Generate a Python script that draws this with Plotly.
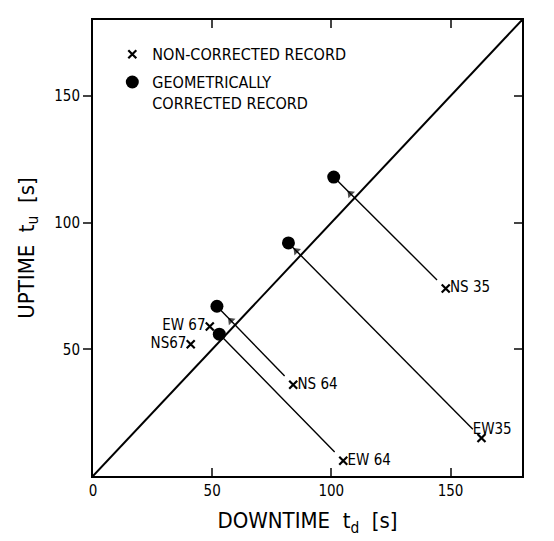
import numpy as np
import plotly.graph_objects as go

# Record names and timings (seconds)
labels = ["NS 35", "EW35", "NS 64", "EW 64", "EW 67", "NS67"]
raw_down = [148, 163, 84, 105, 49, 41]
raw_up = [74, 15, 36, 6, 59, 52]

# Geometrically corrected timings (only the first four records were corrected)
corr_down = [101, 82, 52, 53]
corr_up = [118, 92, 67, 56]

x_ticks = [0, 50, 100, 150]
y_ticks = [50, 100, 150]
axis_max = 180

FONT = "DejaVu Sans Condensed, Liberation Sans Narrow, Roboto Condensed, Liberation Sans, sans-serif"
label_pos = ["middle right", "top center", "middle right", "middle right", "middle left", "middle left"]
NB = "\u00a0"


def pad(text, pos):
    # keep labels clear of the cross markers
    if pos == "middle right":
        return NB + text
    if pos == "middle left":
        return text + NB
    return NB * 5 + text


label_text = [pad(t, p) for t, p in zip(labels, label_pos)]

fig = go.Figure()

# Line of equal uptime and downtime
fig.add_trace(go.Scatter(x=[0, axis_max], y=[0, axis_max], mode="lines",
                         line=dict(color="black", width=2), showlegend=False, hoverinfo="skip"))

# Correction paths: from each raw record to its corrected position,
# with a small arrowhead just past the crossing with the diagonal
for i in range(len(corr_down)):
    p0 = np.array([raw_down[i], raw_up[i]], dtype=float)
    p1 = np.array([corr_down[i], corr_up[i]], dtype=float)
    d = p1 - p0
    u = d / np.linalg.norm(d)
    start = p0 + 5 * u
    s = (p0[1] - p0[0]) / (d[0] - d[1])
    tip = p0 + s * d + 2.5 * u
    fig.add_trace(go.Scatter(
        x=[start[0], tip[0], p1[0]], y=[start[1], tip[1], p1[1]], mode="lines+markers",
        line=dict(color="black", width=1.4),
        marker=dict(symbol="triangle-up", size=[0, 8, 0], color="black",
                    angleref="previous", line=dict(width=0)),
        showlegend=False, hoverinfo="skip"))

fig.add_trace(go.Scatter(x=raw_down, y=raw_up, mode="markers", name="NON-CORRECTED RECORD",
                         marker=dict(symbol="x-thin", size=8, line=dict(color="black", width=2.2)),
                         legendgroup="a"))
fig.add_trace(go.Scatter(x=corr_down, y=corr_up, mode="markers",
                         name="GEOMETRICALLY<br>CORRECTED RECORD",
                         marker=dict(symbol="circle", size=13, color="black"), legendgroup="b"))
fig.add_trace(go.Scatter(x=raw_down, y=raw_up, mode="text", text=label_text, textposition=label_pos,
                         textfont=dict(family=FONT, size=15, color="black"),
                         showlegend=False, hoverinfo="skip"))

# invisible trace to carry the right-hand axis
fig.add_trace(go.Scatter(x=[0], y=[0], yaxis="y2", mode="markers", marker=dict(opacity=0),
                         showlegend=False, hoverinfo="skip"))

fig.update_layout(
    width=554, height=541,
    margin=dict(l=93, r=32, t=20, b=61),
    paper_bgcolor="white", plot_bgcolor="white",
    font=dict(family=FONT, color="black", size=15),
    legend=dict(x=0.045, y=0.962, xanchor="left", yanchor="top", bgcolor="rgba(0,0,0,0)",
                font=dict(size=16), traceorder="grouped", tracegroupgap=4, valign="top",
                itemwidth=30),
    xaxis=dict(range=[0, axis_max], tickvals=x_ticks, ticks="inside", ticklen=8, tickwidth=1.5,
               showline=True, linecolor="black", linewidth=2, mirror="ticks", showgrid=False,
               zeroline=False, tickfont=dict(size=15),
               title=dict(text="DOWNTIME  t<sub>d</sub>  [s]", font=dict(size=22), standoff=14)),
    yaxis=dict(range=[0, axis_max], tickvals=y_ticks, ticks="outside", ticklen=8, tickwidth=1.5,
               showline=True, linecolor="black", linewidth=2, mirror=True, showgrid=False,
               zeroline=False, tickfont=dict(size=15),
               title=dict(text="UPTIME  t<sub>u</sub>  [s]", font=dict(size=22), standoff=14)),
    yaxis2=dict(range=[0, axis_max], tickvals=y_ticks, ticks="inside", ticklen=8, tickwidth=1.5,
                overlaying="y", side="right", showticklabels=False, showgrid=False,
                zeroline=False, showline=False),
)

fig.write_html("out.html")
